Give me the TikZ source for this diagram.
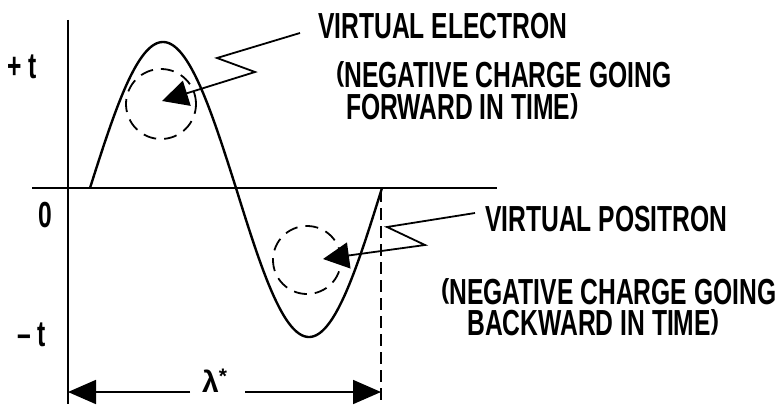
\documentclass[tikz,border=0pt]{standalone}
\usepackage{fontspec}
\setmainfont{Liberation Sans}
\usetikzlibrary{arrows.meta}
\newcommand{\lbl}[1]{\scalebox{0.85}[1.25]{\bfseries #1}}
\newcommand{\lp}{\raisebox{0.16em}{\scalebox{1}[0.76]{(}}}
\newcommand{\rp}{\raisebox{0.16em}{\scalebox{1}[0.76]{)}}}
\tikzset{
  lab/.style={font=\fontsize{29}{30}\selectfont, inner sep=0pt, anchor=west},
  lamfont/.style={font=\fontsize{30}{30}\selectfont\bfseries, inner sep=0pt, anchor=west},
  axis/.style={line width=1.8pt},
  wave/.style={line width=2.4pt},
  circ/.style={line width=1.8pt, dash pattern=on 13pt off 8pt},
  callout/.style={line width=1.8pt, -{Triangle[length=26pt,width=26pt]}},
  dim/.style={line width=1.8pt},
  dimtip/.style={-{Triangle[length=28pt,width=24pt]}},
}
\begin{document}
\begin{tikzpicture}[x=1pt,y=-1pt]
\useasboundingbox[fill=white] (0,0) rectangle (778,404);
% axes
\coordinate (vtop) at (68,20);
\coordinate (vbot) at (68,404);
\coordinate (hl) at (32,188);
\coordinate (hr) at (497,188);
\draw[axis] (vtop) -- (vbot);
\draw[axis] (hl) -- (hr);
% wave
\draw[wave, domain=90:236, samples=80, smooth] plot (\x, {188-146*sin((\x-90)*1.23288)});
\draw[wave, domain=236:382, samples=80, smooth] plot (\x, {188+149*sin((\x-236)*1.23288)});
% dashed end line
\coordinate (dtop) at (381,190);
\coordinate (dbot) at (381,404);
\draw[axis, dash pattern=on 12pt off 6pt] (dtop) -- (dbot);
% dashed circles
\node[circ, draw, circle, minimum size=70pt] (c1) at (161,104) {};
\node[circ, draw, circle, minimum size=68pt] (c2) at (307,260) {};
% axis labels
\node[lab] (pt) at (7,67) {\lbl{+ t}};
\node[lab] (zero) at (38,215) {\lbl{0}};
\node[lab] (mt) at (17,335) {\lbl{– t}};
% texts
\node[lab] (ve) at (318,26) {\lbl{VIRTUAL ELECTRON}};
\node[lab] (ve2) at (336,75) {\lbl{\lp NEGATIVE CHARGE GOING}};
\node[lab] (ve3) at (346,107) {\lbl{FORWARD IN TIME\rp}};
\node[lab] (vp) at (485,219) {\lbl{VIRTUAL POSITRON}};
\node[lab] (vp2) at (441,292) {\lbl{\lp NEGATIVE CHARGE GOING}};
\node[lab] (vp3) at (467,323) {\lbl{BACKWARD IN TIME\rp}};
% callouts
\coordinate (e0) at (300,33);
\coordinate (e1) at (217,58);
\coordinate (e2) at (255,72);
\coordinate (etip) at (162,101);
\draw[callout] (e0) -- (e1) -- (e2) -- (etip);
\coordinate (p0) at (475,213);
\coordinate (p1) at (387,227);
\coordinate (p2) at (425,245);
\coordinate (ptip) at (323,259);
\draw[callout] (p0) -- (p1) -- (p2) -- (ptip);
% dimension
\coordinate (dl) at (68,392);
\coordinate (dr) at (381,392);
\node[lamfont] (lam) at (202,381) {λ\textsuperscript{*}};
\coordinate (gl) at (190,392);
\coordinate (gr) at (245,392);
\draw[dim, dimtip] (gl) -- (dl);
\draw[dim, dimtip] (gr) -- (dr);
\end{tikzpicture}
\end{document}
